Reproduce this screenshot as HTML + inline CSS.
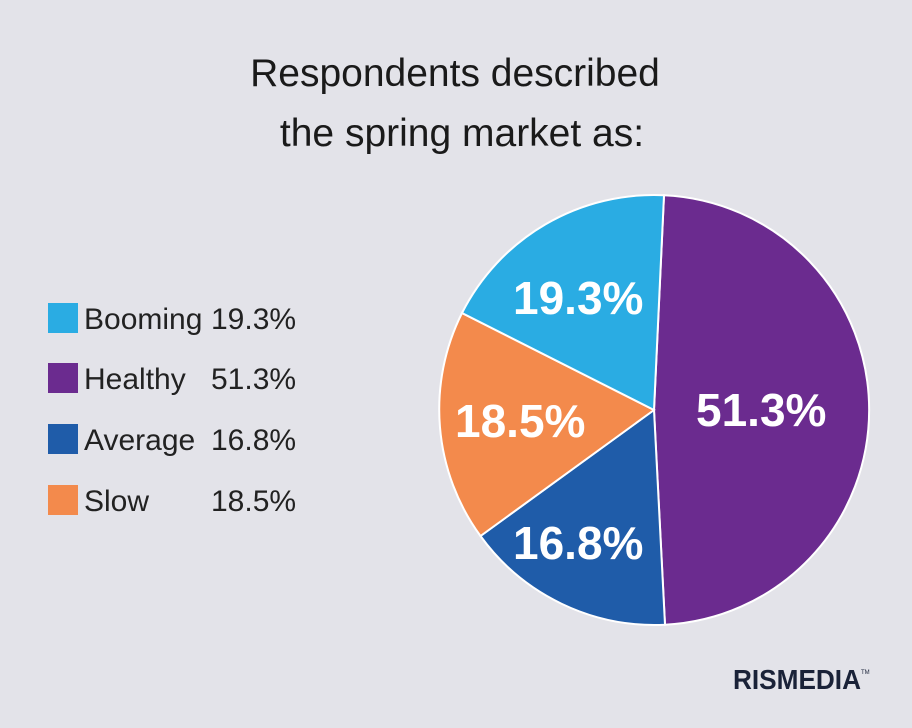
<!DOCTYPE html>
<html><head><style>
body{margin:0;width:912px;height:723px;background:#e3e3e9;overflow:hidden;font-family:"Liberation Sans",sans-serif}
</style></head><body>
<svg width="912" height="723" viewBox="0 0 912 723" xmlns="http://www.w3.org/2000/svg">
<rect width="912" height="723" fill="#e3e3e9"/>
<text x="455" y="86" text-anchor="middle" font-size="39" fill="#1a1a1a" font-family="Liberation Sans,sans-serif">Respondents described</text>
<text x="462" y="146" text-anchor="middle" font-size="39" fill="#1a1a1a" font-family="Liberation Sans,sans-serif">the spring market as:</text>
<g stroke="#ffffff" stroke-width="2">
<path d="M654,410 L664,195.2 A215,215 0 0 1 665,624.7 Z" fill="#6b2b8f"/>
<path d="M654,410 L665,624.7 A215,215 0 0 1 480.5,536 Z" fill="#1f5ca9"/>
<path d="M654,410 L480.5,536 A215,215 0 0 1 462,313 Z" fill="#f38a4c"/>
<path d="M654,410 L462,313 A215,215 0 0 1 664,195.2 Z" fill="#2aace3"/>
</g>
<g font-size="46" font-weight="bold" fill="#fff" font-family="Liberation Sans,sans-serif">
<text x="513" y="314">19.3%</text>
<text x="696" y="426">51.3%</text>
<text x="455" y="437">18.5%</text>
<text x="513" y="559">16.8%</text>
</g>
<g font-size="30" fill="#222" font-family="Liberation Sans,sans-serif">
<rect x="48" y="303" width="30" height="30" fill="#2aace3"/>
<text x="84" y="329">Booming</text><text x="211" y="329">19.3%</text>
<rect x="48" y="363" width="30" height="30" fill="#6b2b8f"/>
<text x="84" y="389">Healthy</text><text x="211" y="389">51.3%</text>
<rect x="48" y="424" width="30" height="30" fill="#1f5ca9"/>
<text x="84" y="450">Average</text><text x="211" y="450">16.8%</text>
<rect x="48" y="485" width="30" height="30" fill="#f38a4c"/>
<text x="84" y="511">Slow</text><text x="211" y="511">18.5%</text>
</g>
<text x="733" y="689" font-size="28" font-weight="bold" fill="#1a2238" font-family="Liberation Sans,sans-serif" textLength="128" lengthAdjust="spacingAndGlyphs">RISMEDIA</text>
<text x="861" y="674" font-size="6" fill="#1a2238">TM</text>
</svg>
</body></html>
